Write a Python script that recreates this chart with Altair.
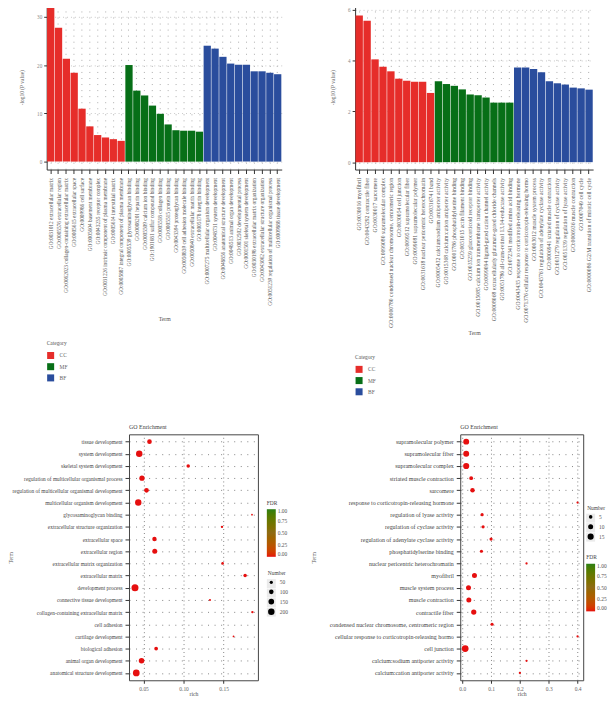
import altair as alt
import pandas as pd

FONT = "Liberation Serif"
CATS = ["CC", "MF", "BF"]
CAT_COLORS = ["#e62d2a", "#076f17", "#2a4d9d"]

left_terms = [
    "GO:0031012 extracellular matrix", "GO:0005576 extracellular region",
    "GO:0062023 collagen-containing extracellular matrix", "GO:0005615 extracellular space",
    "GO:0009986 cell surface", "GO:0005604 basement membrane", "GO:0043235 receptor complex",
    "GO:0031226 intrinsic component of plasma membrane", "GO:0005614 interstitial matrix",
    "GO:0005887 integral component of plasma membrane",
    "GO:0005539 glycosaminoglycan binding", "GO:0008201 heparin binding",
    "GO:0005509 calcium ion binding", "GO:1901681 sulfur compound binding",
    "GO:0005518 collagen binding", "GO:0005515 protein binding",
    "GO:0043394 proteoglycan binding", "GO:0050839 cell adhesion molecule binding",
    "GO:0050840 extracellular matrix binding", "GO:0005178 integrin binding",
    "GO:0007275 multicellular organism development", "GO:0048731 system development",
    "GO:0048856 anatomical structure development", "GO:0048513 animal organ development",
    "GO:0032502 developmental process", "GO:0001501 skeletal system development",
    "GO:0030198 extracellular matrix organization", "GO:0043062 extracellular structure organization",
    "GO:0051239 regulation of multicellular organismal process", "GO:0009888 tissue development",
]
left_values = [32.47, 27.7, 21.3, 18.4, 10.96, 7.3, 5.5, 5.0, 4.65, 4.3,
               20.0, 14.7, 13.7, 11.6, 9.9, 7.7, 6.5, 6.4, 6.4, 6.2,
               24.0, 23.4, 21.7, 20.3, 20.05, 20.05, 18.7, 18.7, 18.4, 18.1]

right_terms = [
    "GO:0030016 myofibril", "GO:0043292 contractile fiber", "GO:0030017 sarcomere",
    "GO:0099080 supramolecular complex", "GO:0000780 condensed nuclear chromosome, centromeric region",
    "GO:0030054 cell junction", "GO:0099512 supramolecular fiber", "GO:0099081 supramolecular polymer",
    "GO:0031618 nuclear pericentric heterochromatin", "GO:0031674 I band",
    "GO:0005432 calcium:sodium antiporter activity", "GO:0015368 calcium:cation antiporter activity",
    "GO:0001786 phosphatidylserine binding", "GO:0051015 actin filament binding",
    "GO:0035259 glucocorticoid receptor binding", "GO:0015085 calcium ion transmembrane transporter activity",
    "GO:0099094 ligand-gated cation channel activity", "GO:0008068 extracellularly glutamate-gated chloride channels",
    "GO:0051786 all-trans-retinol 13,14-reductase activity", "GO:0072341 modified amino acid binding",
    "GO:0043435 response to corticotropin-releasing hormone", "GO:0071376 cellular response to corticotropin-releasing hormo",
    "GO:0003012 muscle system process", "GO:0045761 regulation of adenylate cyclase activity",
    "GO:0006941 striated muscle contraction", "GO:0031279 regulation of cyclase activity",
    "GO:0051339 regulation of lyase activity", "GO:0006936 muscle contraction",
    "GO:0007049 cell cycle", "GO:0000086 G2/M transition of mitotic cell cycle",
]
right_values = [5.76, 5.56, 4.04, 3.75, 3.57, 3.28, 3.2, 3.16, 3.16, 2.72,
                3.18, 3.07, 3.0, 2.86, 2.66, 2.63, 2.54, 2.34, 2.34, 2.34,
                3.72, 3.72, 3.66, 3.53, 3.18, 3.1, 3.05, 2.93, 2.9, 2.85]
bar_groups = ["CC"] * 10 + ["MF"] * 10 + ["BF"] * 10

dot1_terms = ["tissue development", "system development", "skeletal system development",
              "regulation of multicellular organismal process", "regulation of multicellular organismal development",
              "multicellular organism development", "glycosaminoglycan binding", "extracellular structure organization",
              "extracellular space", "extracellular region", "extracellular matrix organization", "extracellular matrix",
              "development process", "connective tissue development", "collagen-containing extracellular matrix",
              "cell adhesion", "cartilage development", "biological adhesion", "animal organ development",
              "anatomical structure development"]
dot1_rich = [.0574, .0446, .1058, .048, .0537, .0434, .1855, .148, .0636, .064, .1488, .1769, .0393, .133, .186,
             None, .1624, .0657, .0475, .0409]
dot1_num = [104, 197, 59, 133, 104, 197, 15, 27, 92, 120, 33, 59, 235, 20, 27, None, 15, 68, 147, 219]

dot2_terms = ["supramolecular polymer", "supramolecular fiber", "supramolecular complex", "striated muscle contraction",
              "sarcomere", "response to corticotropin-releasing hormone", "regulation of lyase activity",
              "regulation of cyclase activity", "regulation of adenylate cyclase activity", "phosphatidylserine binding",
              "nuclear pericentric heterochromatin", "myofibril", "muscle system process", "muscle contraction",
              "contractile fiber", "condensed nuclear chromosome, centromeric region",
              "cellular response to corticotropin-releasing hormo", "cell junction", "calcium:sodium antiporter activity",
              "calcium:cation antiporter activity"]
dot2_rich = [.0138, .0138, .0138, .031, .0356, .4, .069, .0724, .1, .0667, .223, .0425, .0218, .023, .04, .1034, .4,
             .0103, .223, .2]
dot2_num = [14, 14, 15, 6, 8, 2, 4, 4, 4, 4, 2, 10, 10, 10, 11, 4, 2, 18, 2, 2]


def bar_panel(terms, values, ydomain, yticks, width, legend_y, label_size, term_y):
    df = pd.DataFrame({"Term": terms, "Value": values, "Category": bar_groups})
    return alt.Chart(df, width=width, height=166).mark_bar().encode(
        x=alt.X("Term:N", sort=terms, scale=alt.Scale(paddingInner=0.07, paddingOuter=0.05),
                axis=alt.Axis(title="Term", labelAngle=270, labelAlign="right", labelBaseline="middle",
                              labelLimit=0, labelFontSize=label_size, labelColor="#555", labelPadding=4, tickSize=4,
                              tickColor="#333", domainColor="#333", titleFontSize=5.8, titleColor="#555",
                              titleFontWeight="normal", titleY=term_y, titleBaseline="middle", labelFont=FONT,
                              titleFont=FONT, grid=True, gridDash=[1, 5.1], gridColor="#999", gridWidth=0.8)),
        y=alt.Y("Value:Q", scale=alt.Scale(domain=ydomain, nice=False, zero=False),
                axis=alt.Axis(title="-log10 (P value)", values=yticks, format="d", labelFontSize=5.2, labelColor="#888",
                              tickSize=3, tickColor="#333", domainColor="#333", titleFontSize=5.5, titleColor="#666",
                              titleFontWeight="normal", titlePadding=12, labelFont=FONT, titleFont=FONT,
                              grid=True, gridDash=[1, 3], gridColor="#bbb", gridWidth=0.8)),
        color=alt.Color("Category:N", sort=CATS, scale=alt.Scale(domain=CATS, range=CAT_COLORS),
                        legend=alt.Legend(orient="none", legendX=0, legendY=legend_y, title="Category",
                                          symbolType="square", symbolSize=50, symbolStrokeWidth=0,
                                          rowPadding=3.3, labelFontSize=5.5, titleFontSize=5.5, titleFontWeight="normal",
                                          labelColor="#666", titleColor="#555", labelFont=FONT, titleFont=FONT,
                                          titlePadding=5, labelOffset=5)),
    ).properties(view=alt.ViewConfig(stroke=None))


def dot_panel(terms, rich, num, xdomain, xticks, xfmt, width, size_dom, size_rng, num_vals,
              num_pos, fdr_pos, title_x, label_size):
    df = pd.DataFrame({"Term": terms, "rich": rich, "Number": num, "FDR": [0.0] * len(terms)}).dropna()
    x = alt.X("rich:Q", scale=alt.Scale(domain=xdomain, nice=False, zero=False),
              axis=alt.Axis(title="rich", values=xticks, format=xfmt, labelFontSize=5.5, labelColor="#666",
                            tickSize=3, tickColor="#333", domain=False, titleFontSize=5.8, titleColor="#555",
                            titleFontWeight="normal", titleY=13.5, titleBaseline="middle", labelFont=FONT,
                            titleFont=FONT, labelPadding=3, grid=True, gridDash=[1, 3], gridColor="#666",
                            gridWidth=0.8))
    y = alt.Y("Term:N", sort=terms, scale=alt.Scale(domain=terms, type="point", padding=0.6),
              axis=alt.Axis(title="Term", labelLimit=0, labelFontSize=label_size, labelColor="#444", tickSize=4,
                            labelPadding=3, tickColor="#333", domain=False, titleFontSize=5.5, titleColor="#555",
                            titleFontWeight="normal", titleX=title_x, labelFont=FONT, titleFont=FONT,
                            grid=True, gridDash=[1, 5.6], gridColor="#666", gridWidth=0.8))
    back = alt.Chart(df).mark_square(size=81, color="#ebebeb").transform_filter("false").encode(
        x=x, y=y,
        opacity=alt.Opacity("Number:Q", scale=alt.Scale(domain=[num_vals[0], num_vals[-1]], range=[1, 1]),
                            legend=alt.Legend(orient="none", legendX=num_pos[0], legendY=num_pos[1] + 8, title=None,
                                              values=num_vals, symbolType="square", symbolSize=81,
                                              symbolFillColor="#ebebeb", symbolStrokeColor="#ebebeb",
                                              symbolStrokeWidth=0, labelExpr="''", labelFontSize=5.5,
                                              rowPadding=0.6, labelFont=FONT)))
    dots = alt.Chart(df).mark_circle(opacity=1).encode(
        x=x, y=y,
        size=alt.Size("Number:Q", scale=alt.Scale(domain=size_dom, range=size_rng, zero=True),
                      legend=alt.Legend(orient="none", legendX=num_pos[0] + 1, legendY=num_pos[1], title="Number",
                                        values=num_vals, symbolType="circle", symbolFillColor="#000",
                                        symbolStrokeWidth=0, labelFontSize=5.5, titleFontSize=5.5,
                                        titleFontWeight="normal", titlePadding=3, rowPadding=2.6, labelColor="#555",
                                        titleColor="#444", labelFont=FONT, titleFont=FONT, labelOffset=5)),
        color=alt.Color("FDR:Q", scale=alt.Scale(domain=[0, 1], range=["#e60f0f", "#8f6a14", "#2b8016"]),
                        legend=alt.Legend(orient="none", legendX=fdr_pos[0], legendY=fdr_pos[1], title="FDR",
                                          gradientLength=48, gradientThickness=9, values=[0, .25, .5, .75, 1],
                                          format=".2f", labelFontSize=5.5, titleFontSize=5.5, titleFontWeight="normal",
                                          titlePadding=3, labelColor="#555", titleColor="#444", labelFont=FONT,
                                          titleFont=FONT, gradientStrokeWidth=0)),
    )
    return alt.layer(back, dots).properties(
        width=width, height=248,
        title=alt.TitleParams("GO Enrichment", anchor="start", frame="group", fontSize=6, font=FONT, fontWeight="normal",
                              color="#444", offset=4),
        view=alt.ViewConfig(stroke="#444", strokeWidth=1),
    ).resolve_scale(size="independent", color="independent", opacity="independent")


def spacer(w):
    return alt.Chart(pd.DataFrame({"a": [0]}), width=w, height=1).mark_point(opacity=0).encode(
        x=alt.value(0), y=alt.value(0))


bar1 = bar_panel(left_terms, left_values, [-1.64, 32.45], [0, 10, 20, 30], 237, 339, 5.4, 150)
bar2 = bar_panel(right_terms, right_values, [-0.29, 6.18], [0, 2, 4, 6], 240, 353, 5.75, 164)
dot1 = dot_panel(dot1_terms, dot1_rich, dot1_num, [0.0318, 0.1929], [.05, .10, .15], ".2f", 130,
                 [0, 250], [0, 53], [50, 100, 150, 200], [139, 138], [139, 67], -116, 5.4)
dot2 = dot_panel(dot2_terms, dot2_rich, dot2_num, [-0.0069, 0.4196], [0, .1, .2, .3, .4], ".1f", 124,
                 [0, 20], [0, 51], [5, 10, 15], [127, 72], [127, 122], -145, 6)

top = alt.hconcat(bar1, spacer(74), bar2, spacing=0, bounds="flush").resolve_scale(color="independent")
bottom = alt.hconcat(spacer(83), dot1, spacer(204), dot2, spacing=0, bounds="flush").resolve_scale(
    color="independent", size="independent", opacity="independent")
chart = alt.vconcat(top, bottom, spacing=433, bounds="flush").properties(
    padding={"top": -9, "left": 0, "right": 0, "bottom": 0}
).resolve_scale(
    color="independent", size="independent", opacity="independent", x="independent", y="independent"
).configure_view(stroke=None).configure_axis(labelFont=FONT, titleFont=FONT)

chart.save("out.html", embed_options={"renderer": "svg", "actions": False})
